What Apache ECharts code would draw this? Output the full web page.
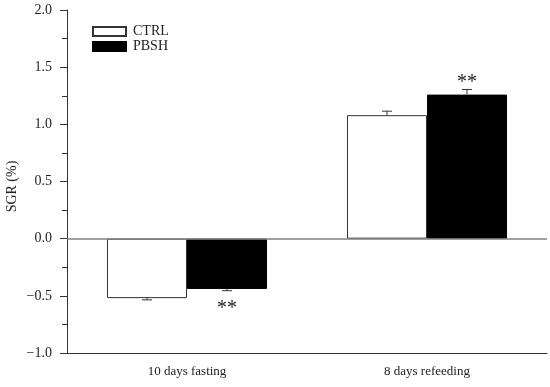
<!DOCTYPE html>
<html>
<head>
<meta charset="utf-8">
<script src="https://cdn.jsdelivr.net/npm/echarts@6/dist/echarts.min.js"></script>
<style>
html,body{margin:0;padding:0;background:#fff;}
#chart{width:550px;height:387px;}
</style>
</head>
<body>
<div id="chart"></div>
<script>
const categories = ['10 days fasting', '8 days refeeding'];
const seriesNames = ['CTRL', 'PBSH'];
const ctrlValues = [-0.52, 1.08];
const ctrlErrors = [0.015, 0.035];
const pbshValues = [-0.44, 1.26];
const pbshErrors = [0.015, 0.045];
const ctrlSig = ['', ''];
const pbshSig = ['**', '**'];

const FONT = '"Liberation Serif", "Times New Roman", serif';
const chart = echarts.init(document.getElementById('chart'));

const errData = [];
[[ctrlValues, ctrlErrors, ctrlSig], [pbshValues, pbshErrors, pbshSig]].forEach((s, si) => {
  s[0].forEach((v, i) => errData.push([i, v, s[1][i], si, s[2][i]]));
});

function renderErr(params, api) {
  const ci = api.value(0), v = api.value(1), e = api.value(2), si = api.value(3);
  const sig = errData[params.dataIndex][4];
  const band = api.size([1, 0])[0];
  const bw = band * (2 / 3) / 2;
  const dx = (si - 0.5) * bw;
  const dir = v >= 0 ? 1 : -1;
  const p0 = api.coord([ci, v]);
  const p1 = api.coord([ci, v + dir * e]);
  const x = p0[0] + dx;
  const cap = 5;
  const children = [
    {type: 'line', shape: {x1: x, y1: p0[1], x2: x, y2: p1[1]}, style: {stroke: '#333', lineWidth: 1}},
    {type: 'line', shape: {x1: x - cap, y1: p1[1], x2: x + cap, y2: p1[1]}, style: {stroke: '#333', lineWidth: 1}}
  ];
  if (sig) {
    children.push({
      type: 'text',
      style: {
        text: sig, x: x, y: p1[1] + (dir > 0 ? -7 : 18),
        align: 'center', verticalAlign: 'middle',
        font: '20px ' + FONT, fill: '#222'
      }
    });
  }
  return {type: 'group', children: children};
}

chart.setOption({
  animation: false,
  backgroundColor: '#fff',
  grid: {left: 67, right: 3, top: 10, bottom: 34, containLabel: false, outerBoundsMode: 'none'},
  legend: {
    data: seriesNames, padding: 0,
    orient: 'vertical', left: 92, top: 24, itemWidth: 33, itemHeight: 9, itemGap: 0,
    icon: 'rect',
    textStyle: {fontFamily: FONT, fontSize: 14, lineHeight: 15, color: '#222', padding: [0, 0, 0, 2]}
  },
  xAxis: {
    type: 'category', data: categories,
    axisLine: {onZero: false, lineStyle: {color: '#333', width: 1}},
    axisTick: {alignWithLabel: true, length: 8, lineStyle: {color: '#333'}},
    axisLabel: {fontFamily: FONT, fontSize: 13, color: '#222', margin: 12},
    splitLine: {show: false}
  },
  yAxis: {
    type: 'value', min: -1, max: 2, interval: 0.5,
    name: 'SGR (%)', nameLocation: 'middle', nameGap: 48, nameMoveOverlap: false,
    nameTextStyle: {fontFamily: FONT, fontSize: 14, color: '#222', padding: [0, 10, 0, 0]},
    axisLine: {show: true, lineStyle: {color: '#333', width: 1}},
    axisTick: {show: true, length: 7, lineStyle: {color: '#333'}},
    minorTick: {show: true, splitNumber: 2, length: 5, lineStyle: {color: '#333'}},
    axisLabel: {fontFamily: FONT, fontSize: 14, color: '#222', margin: 15,
      formatter: v => v.toFixed(1).replace('-', '\u2212')},
    splitLine: {show: false}
  },
  series: [
    {
      name: 'CTRL', type: 'bar', data: ctrlValues, barGap: 0, barCategoryGap: '33.33%',
      itemStyle: {color: '#fff', borderColor: '#333', borderWidth: 1},
      markLine: {
        silent: true, symbol: 'none', label: {show: false},
        lineStyle: {color: '#808080', type: 'solid', width: 1.5},
        data: [{yAxis: 0}]
      }
    },
    {
      name: 'PBSH', type: 'bar', data: pbshValues,
      itemStyle: {color: '#000', borderColor: '#000', borderWidth: 1}
    },
    {
      type: 'custom', renderItem: renderErr, data: errData, z: 5,
      encode: {x: 0, y: 1}
    }
  ]
});
</script>
</body>
</html>
